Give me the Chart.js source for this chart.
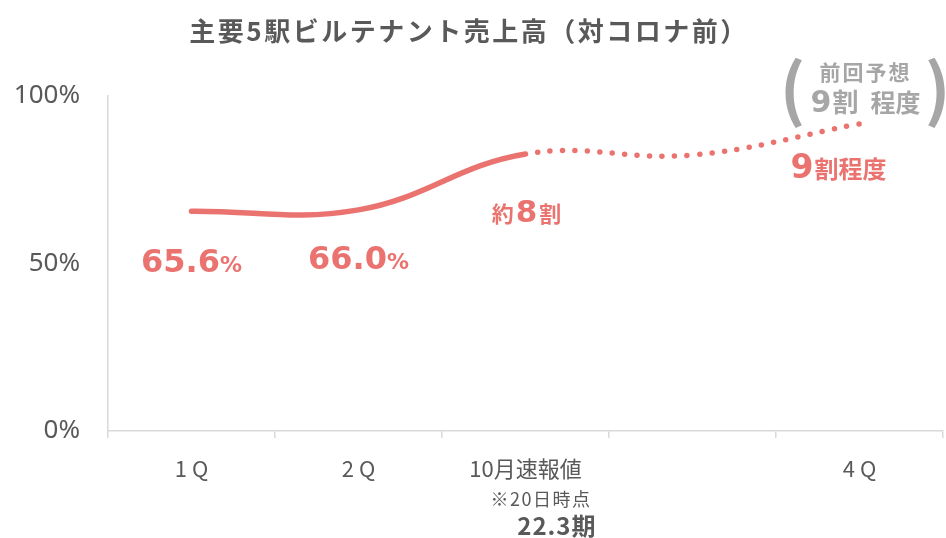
<!DOCTYPE html>
<html>
<head>
<meta charset="utf-8">
<script src="https://cdn.jsdelivr.net/npm/chart.js@4"></script>
<style>
  body { margin: 0; background: #fff; }
  #wrap { width: 946px; height: 538px; position: relative; }
</style>
</head>
<body>
<div id="wrap"><canvas id="salesChart"></canvas></div>
<script>
const TITLE = "主要5駅ビルテナント売上高（対コロナ前）";
const categories = ["1 Q", "2 Q", "10月速報値", "", "4 Q"];
const salesRatio = [65.6, 66.0, 82.7, 82.4, 91.7];
const yTicks = [0, 50, 100];

const RED = "#ea7370";
const GRAY = "#595959";
const LIGHT = "#a6a6a6";
const JP = "'Noto Sans CJK JP', sans-serif";
const NUM = "'DejaVu Sans', sans-serif";

// draw a row of text pieces with different fonts, centred on cx
function drawRuns(ctx, runs, cx, baseline, color, spacing) {
  ctx.fillStyle = color;
  ctx.textBaseline = "alphabetic";
  ctx.textAlign = "left";
  ctx.letterSpacing = (spacing || 0) + "px";
  let total = 0;
  runs.forEach((r) => {
    ctx.font = r.font;
    r.w = ctx.measureText(r.text).width + (r.gap || 0);
    total += r.w;
  });
  let x = cx - total / 2;
  runs.forEach((r) => {
    ctx.font = r.font;
    ctx.fillText(r.text, x, baseline);
    x += r.w;
  });
  ctx.letterSpacing = "0px";
}

const annotations = {
  id: "annotations",
  afterDraw(chart) {
    const { ctx, scales } = chart;
    const xs = scales.x;
    const ys = scales.y;
    const px = (i) => xs.getPixelForValue(i);
    const py = (i) => ys.getPixelForValue(salesRatio[i]);
    ctx.save();

    // title
    ctx.font = "bold 26px " + JP;
    ctx.letterSpacing = "2.5px";
    ctx.fillStyle = GRAY;
    ctx.textAlign = "center";
    ctx.textBaseline = "alphabetic";
    ctx.fillText(TITLE, 469, 41);
    ctx.letterSpacing = "0px";

    // value labels
    drawRuns(ctx, [
      { text: salesRatio[0].toFixed(1), font: "bold 32px " + NUM },
      { text: "%", font: "bold 22px " + NUM },
    ], px(0), py(0) + 61, RED);
    drawRuns(ctx, [
      { text: salesRatio[1].toFixed(1), font: "bold 32px " + NUM },
      { text: "%", font: "bold 22px " + NUM },
    ], px(1), py(1) + 59, RED);
    drawRuns(ctx, [
      { text: "約", font: "bold 22px " + JP, gap: 2 },
      { text: "8", font: "bold 31px " + NUM, gap: 2 },
      { text: "割", font: "bold 22px " + JP },
    ], px(2) + 1, py(2) + 68, RED);
    drawRuns(ctx, [
      { text: "9", font: "bold 33px " + NUM, gap: 1 },
      { text: "割程度", font: "bold 24px " + JP },
    ], px(4) - 21, py(4) + 54, RED);

    // previous forecast note
    const nx = px(4) + 6;
    drawRuns(ctx, [{ text: "前回予想", font: "bold 21px " + JP }], nx, 80, LIGHT, 2);
    drawRuns(ctx, [
      { text: "9", font: "bold 30px " + NUM, gap: 1 },
      { text: "割", font: "bold 26px " + JP, gap: 12 },
      { text: "程度", font: "bold 25px " + JP },
    ], nx, 112, LIGHT);
    ctx.font = "bold 68px " + JP;
    ctx.fillStyle = LIGHT;
    ctx.textAlign = "center";
    ctx.fillText("(", nx - 73, 114);
    ctx.fillText(")", nx + 72, 114);

    // extra x labels under 10月速報値
    ctx.textAlign = "right";
    ctx.fillStyle = GRAY;
    ctx.font = "18px " + JP;
    ctx.letterSpacing = "1.5px";
    ctx.fillText("※20日時点", px(2) + 66, 506);
    ctx.font = "bold 24px " + JP;
    ctx.letterSpacing = "1px";
    ctx.fillText("22.3期", px(2) + 71, 535);
    ctx.restore();
  },
};

new Chart(document.getElementById("salesChart"), {
  type: "line",
  data: {
    labels: categories,
    datasets: [
      {
        data: salesRatio,
        borderColor: RED,
        borderWidth: 5.5,
        borderCapStyle: "round",
        tension: 0.4,
        pointRadius: 0,
        segment: {
          borderDash: (ctx) => (ctx.p0DataIndex >= 2 ? [0, 12.5] : []),
          borderDashOffset: (ctx) => (ctx.p0DataIndex >= 2 ? -12 : 0),
        },
      },
    ],
  },
  options: {
    responsive: true,
    maintainAspectRatio: false,
    animation: false,
    layout: { padding: { top: 96, right: 3, left: 0, bottom: 0 } },
    plugins: { legend: { display: false }, tooltip: { enabled: false } },
    scales: {
      x: {
        offset: true,
        afterFit: (s) => { s.height = 107; },
        grid: {
          offset: true,
          drawOnChartArea: false,
          tickLength: 7,
          color: "#d9d9d9",
          lineWidth: 1.5,
        },
        border: { color: "#d9d9d9", width: 1.5 },
        ticks: {
          color: GRAY,
          padding: 17,
          maxRotation: 0,
          font: { family: JP, size: 22 },
        },
      },
      y: {
        min: 0,
        max: 100,
        afterFit: (s) => { s.width = 108; },
        afterBuildTicks: (s) => { s.ticks = yTicks.map((v) => ({ value: v })); },
        grid: { drawOnChartArea: false, drawTicks: false },
        border: { color: "#d9d9d9", width: 1.5 },
        ticks: {
          color: GRAY,
          padding: 28,
          font: { family: "'Noto Sans', sans-serif", size: 26 },
          callback: (v) => v + "%",
        },
      },
    },
  },
  plugins: [annotations],
});
</script>
</body>
</html>
